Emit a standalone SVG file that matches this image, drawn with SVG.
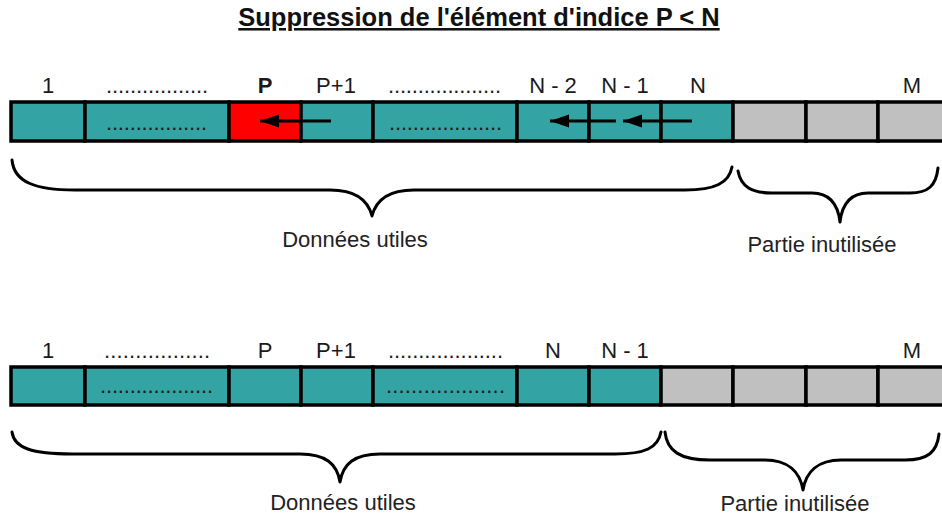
<svg xmlns="http://www.w3.org/2000/svg" width="942" height="517" viewBox="0 0 942 517">
  <style>
    .lbl { font-family: "Liberation Sans", Arial, sans-serif; font-size: 22px; fill: #1a1a1a; text-anchor: middle; }
    .dots { font-family: "Liberation Sans", Arial, sans-serif; font-size: 22px; fill: #1a1a1a; }
    .title { font-family: "Liberation Sans", Arial, sans-serif; font-size: 25.5px; font-weight: bold; fill: #111; text-anchor: middle; text-decoration: underline; }
    .used { fill: #34a3a3; stroke: #000; stroke-width: 3.5; }
    .free { fill: #c0c0c0; stroke: #000; stroke-width: 3.5; }
    .del { fill: #ff0000; stroke: #000; stroke-width: 3.5; }
    .brace { fill: none; stroke: #000; stroke-width: 3; stroke-linecap: round; stroke-linejoin: round; }
    .shift { stroke: #000; stroke-width: 3; fill: none; }
    .cap { font-family: "Liberation Sans", Arial, sans-serif; font-size: 22px; fill: #222; text-anchor: middle; }
  </style>
  <defs>
    <!-- filled arrowhead, tip placed at the end point of the line -->
    <marker id="head" markerWidth="20" markerHeight="14" refX="19" refY="7" orient="auto" markerUnits="userSpaceOnUse">
      <path d="M19,7 L0,0.5 L0,13.5 Z" fill="#000"/>
    </marker>
  </defs>

  <rect width="942" height="517" fill="#fff"/>

  <text class="title" x="479" y="26">Suppression de l'élément d'indice P &lt; N</text>

  <!-- Array before removal -->
  <g id="before">
    <g id="b-labels">
      <text class="lbl" x="48" y="93">1</text>
      <text class="dots" x="106" y="93" textLength="102" lengthAdjust="spacing">.................</text>
      <text class="lbl" x="265" y="93" font-weight="bold">P</text>
      <text class="lbl" x="336" y="93">P+1</text>
      <text class="dots" x="388" y="93" textLength="113" lengthAdjust="spacing">...................</text>
      <text class="lbl" x="553" y="93">N - 2</text>
      <text class="lbl" x="625" y="93">N - 1</text>
      <text class="lbl" x="698" y="93">N</text>
      <text class="lbl" x="912" y="93">M</text>
    </g>
    <g id="b-cell-1"><rect class="used" x="11" y="102" width="74" height="39"/></g>
    <g id="b-cell-2"><rect class="used" x="85" y="102" width="144" height="39"/>
      <text class="dots" x="106" y="130" textLength="101" lengthAdjust="spacing">.................</text></g>
    <g id="b-cell-p"><rect class="del" x="229" y="102" width="72" height="39"/></g>
    <g id="b-cell-p1"><rect class="used" x="301" y="102" width="72" height="39"/></g>
    <g id="b-cell-5"><rect class="used" x="373" y="102" width="144" height="39"/>
      <text class="dots" x="389" y="130" textLength="113" lengthAdjust="spacing">...................</text></g>
    <g id="b-cell-n2"><rect class="used" x="517" y="102" width="72" height="39"/></g>
    <g id="b-cell-n1"><rect class="used" x="589" y="102" width="72" height="39"/></g>
    <g id="b-cell-n"><rect class="used" x="661" y="102" width="72" height="39"/></g>
    <g id="b-cell-9"><rect class="free" x="733" y="102" width="73" height="39"/></g>
    <g id="b-cell-10"><rect class="free" x="806" y="102" width="72" height="39"/></g>
    <g id="b-cell-m"><rect class="free" x="878" y="102" width="72" height="39"/></g>
  </g>

  <!-- Left shifts of the trailing elements -->
  <g id="connectors">
    <line class="shift" x1="331" y1="121" x2="260" y2="121" marker-end="url(#head)"/>
    <line class="shift" x1="692" y1="121" x2="623" y2="121" marker-end="url(#head)"/>
    <line class="shift" x1="616" y1="121" x2="550" y2="121" marker-end="url(#head)"/>
  </g>

  <g id="b-braces">
    <path class="brace" d="M12,160 C14,182 35,190 75,190 L330,190 C356,190 368,200 372,216 C376,200 388,190 414,190 L685,190 C715,190 729,183 732,167"/>
    <path class="brace" d="M738,171 C741,187 752,193 772,193 L812,193 C830,193 838,205 840,222 C842,205 850,193 868,193 L910,193 C928,193 936,186 938,168"/>
    <text class="cap" x="355" y="247">Données utiles</text>
    <text class="cap" x="822" y="252">Partie inutilisée</text>
  </g>

  <!-- Array after removal -->
  <g id="after">
    <g id="a-labels">
      <text class="lbl" x="48" y="358">1</text>
      <text class="dots" x="104" y="358" textLength="106" lengthAdjust="spacing">.................</text>
      <text class="lbl" x="265" y="358">P</text>
      <text class="lbl" x="336" y="358">P+1</text>
      <text class="dots" x="388" y="358" textLength="115" lengthAdjust="spacing">...................</text>
      <text class="lbl" x="553" y="358">N</text>
      <text class="lbl" x="625" y="358">N - 1</text>
      <text class="lbl" x="912" y="358">M</text>
    </g>
    <g id="a-cell-1"><rect class="used" x="11" y="367" width="74" height="38"/></g>
    <g id="a-cell-2"><rect class="used" x="85" y="367" width="144" height="38"/>
      <text class="dots" x="100" y="393" textLength="113" lengthAdjust="spacing">...................</text></g>
    <g id="a-cell-p"><rect class="used" x="229" y="367" width="72" height="38"/></g>
    <g id="a-cell-p1"><rect class="used" x="301" y="367" width="72" height="38"/></g>
    <g id="a-cell-5"><rect class="used" x="373" y="367" width="144" height="38"/>
      <text class="dots" x="386" y="393" textLength="119" lengthAdjust="spacing">...................</text></g>
    <g id="a-cell-n"><rect class="used" x="517" y="367" width="72" height="38"/></g>
    <g id="a-cell-n1"><rect class="used" x="589" y="367" width="72" height="38"/></g>
    <g id="a-cell-8"><rect class="free" x="661" y="367" width="72" height="38"/></g>
    <g id="a-cell-9"><rect class="free" x="733" y="367" width="73" height="38"/></g>
    <g id="a-cell-10"><rect class="free" x="806" y="367" width="72" height="38"/></g>
    <g id="a-cell-m"><rect class="free" x="878" y="367" width="72" height="38"/></g>
  </g>

  <g id="a-braces">
    <path class="brace" d="M12,432 C14,448 32,454 72,454 L300,454 C326,454 337,464 340,482 C343,464 354,454 380,454 L615,454 C645,454 658,448 661,432"/>
    <path class="brace" d="M665,432 C667,451 680,460 710,460 L765,460 C788,460 800,472 803,490 C806,472 818,460 841,460 L905,460 C928,460 937,452 939,434"/>
    <text class="cap" x="343" y="510">Données utiles</text>
    <text class="cap" x="795" y="511">Partie inutilisée</text>
  </g>
</svg>
